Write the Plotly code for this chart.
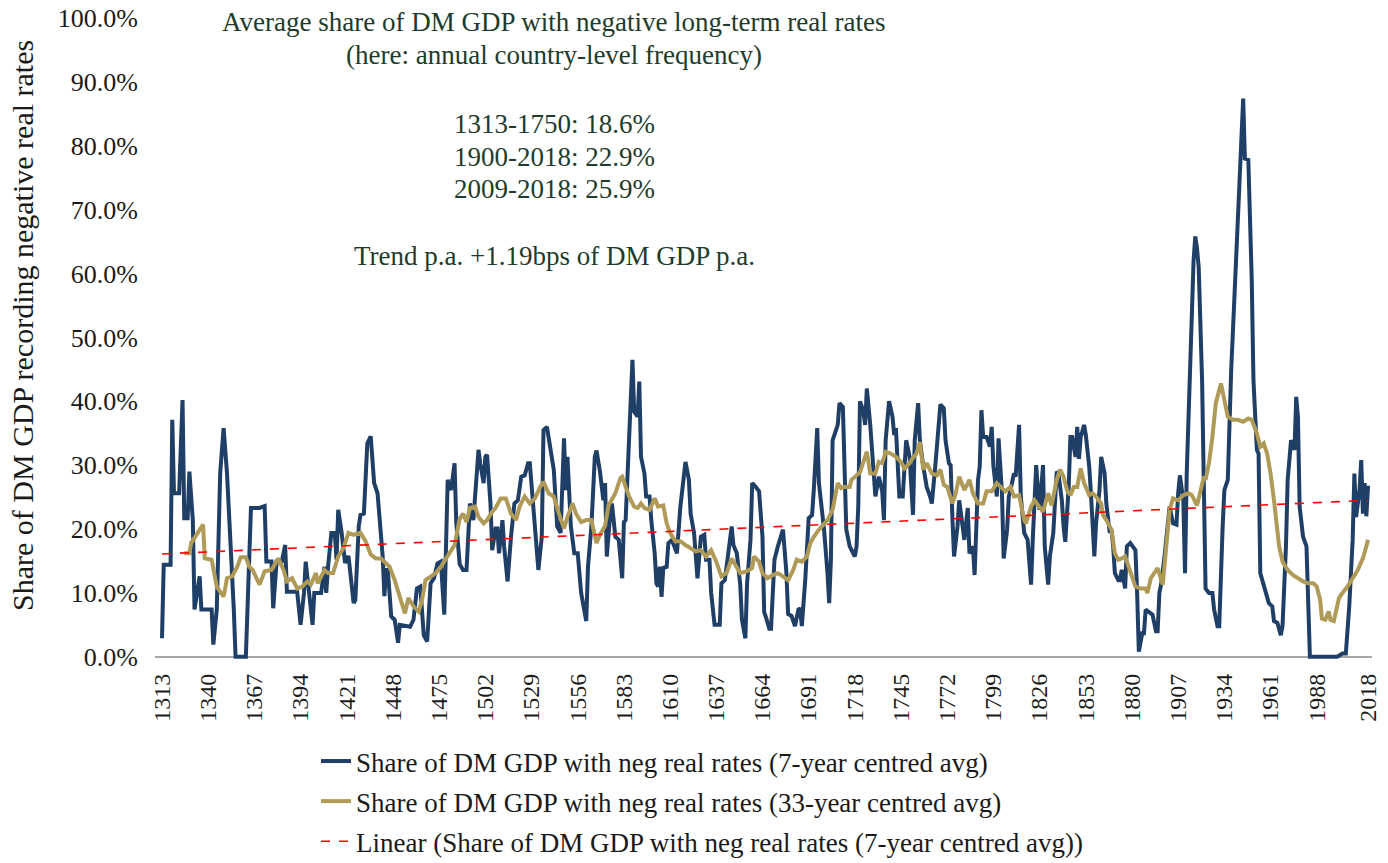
import plotly.graph_objects as go

# ---------------- data ----------------
blue_years = [1313,1314,1318,1319,1320,1323,1325,1326,1328,1329,1331,1332,1335,1336,1342,1343,1345,1347,1349,1351,
1355,1356,1362,1365,1370,1373,1374,1377,1378,1380,1383,1385,1386,1392,1394,1396,1397,1399,1401,1402,
1406,1408,1409,1410,1412,1414,1415,1416,1418,1420,1422,1425,1426,1428,1429,1431,1433,1435,1437,1439,
1442,1443,1444,1445,1447,1449,1451,1452,1458,1460,1462,1464,1466,1468,1470,1472,1474,1476,1477,1478,
1480,1482,1484,1485,1487,1489,1491,1492,1493,1495,1496,1498,1499,1501,1502,1503,1505,1506,1508,1509,
1510,1512,1513,1515,1517,1519,1521,1523,1525,1527,1528,1530,1532,1533,1535,1536,1538,1540,1542,1544,
1546,1548,1549,1550,1552,1554,1556,1558,1560,1561,1562,1564,1566,1567,1569,1571,1572,1573,1575,1576,
1578,1580,1582,1583,1584,1586,1588,1589,1591,1592,1593,1595,1596,1598,1599,1601,1602,1603,1604,1605,
1606,1608,1609,1611,1614,1616,1618,1619,1621,1622,1624,1625,1626,1628,1630,1631,1633,1634,1636,1639,
1640,1642,1644,1646,1647,1649,1651,1652,1654,1655,1657,1658,1660,1662,1664,1665,1666,1668,1669,1671,
1673,1675,1676,1678,1679,1681,1683,1685,1686,1687,1689,1691,1693,1694,1696,1697,1699,1700,1702,1703,
1704,1705,1708,1709,1711,1712,1713,1715,1718,1719,1720,1721,1723,1724,1725,1727,1729,1730,1732,1734,
1735,1736,1738,1740,1741,1742,1744,1746,1748,1750,1752,1753,1755,1756,1758,1760,1762,1763,1765,1767,
1768,1770,1771,1773,1774,1775,1776,1778,1779,1781,1782,1784,1785,1787,1788,1790,1791,1792,1793,1795,
1797,1798,1799,1801,1802,1804,1805,1807,1808,1809,1811,1812,1814,1815,1817,1819,1821,1822,1824,1825,
1826,1828,1829,1831,1832,1834,1836,1837,1839,1840,1841,1843,1844,1845,1847,1848,1849,1850,1852,1853,
1855,1856,1858,1859,1861,1862,1864,1865,1867,1868,1869,1870,1872,1873,1874,1876,1877,1879,1881,1882,
1883,1884,1886,1887,1888,1890,1892,1894,1895,1896,1897,1899,1901,1902,1904,1906,1907,1908,1910,1911,
1912,1914,1915,1916,1917,1918,1919,1921,1923,1925,1927,1928,1930,1931,1933,1934,1936,1937,1938,1940,
1941,1943,1945,1946,1948,1950,1951,1953,1954,1955,1958,1960,1962,1963,1965,1967,1968,1970,1971,1973,
1975,1976,1977,1978,1980,1982,1984,2000,2003,2005,2007,2009,2010,2011,2013,2014,2015,2016,2017,2018]
blue_values = [2.9,14.4,14.4,37.1,25.6,25.6,40.2,21.7,21.7,29.0,21.4,7.4,12.6,7.4,7.4,1.9,7.4,28.7,35.8,28.7,
7.2,0.0,0.0,23.3,23.3,23.6,14.9,14.9,7.6,14.9,14.9,17.5,10.2,10.2,5.0,10.0,14.9,10.0,5.0,10.0,
10.0,14.1,10.0,13.9,19.4,19.4,15.2,23.0,19.4,14.7,15.8,8.4,8.9,20.4,22.2,22.4,33.4,34.5,27.2,25.6,
15.7,9.5,13.6,13.6,6.3,5.8,2.2,5.0,4.7,5.8,10.7,11.0,3.4,2.4,11.5,12.3,14.6,14.9,10.0,6.6,
27.7,26.1,30.3,21.0,14.5,13.6,13.6,18.8,24.0,21.4,24.5,32.4,30.3,27.2,31.3,31.6,24.0,16.7,20.1,20.1,
16.2,21.4,17.2,11.8,18.8,24.0,24.5,28.2,28.4,30.3,30.3,23.5,16.7,13.6,18.8,35.5,36.0,32.4,29.3,20.4,
19.4,34.2,26.1,31.3,20.4,16.2,16.2,10.0,6.9,5.6,14.1,20.4,31.3,32.3,29.0,24.5,27.2,15.7,22.4,24.0,
18.8,18.3,12.3,21.1,21.4,34.0,46.5,38.4,37.6,43.1,31.3,28.7,25.1,25.1,21.4,16.2,11.5,11.0,14.1,9.4,
13.9,14.1,17.8,18.3,16.2,23.5,28.7,30.5,27.7,22.4,19.4,16.2,12.3,18.8,19.1,15.2,15.2,10.0,5.0,5.0,
11.5,12.0,16.7,20.4,17.5,16.2,11.3,5.8,2.9,11.5,18.3,27.2,26.6,25.9,18.8,7.0,6.2,4.4,4.4,15.2,
17.3,19.4,19.9,13.1,6.7,6.4,4.8,7.4,7.6,4.8,12.0,21.7,22.2,26.1,35.8,27.2,22.4,19.9,13.1,8.4,
15.2,33.9,36.3,39.7,39.1,27.7,19.9,17.3,15.7,17.3,23.5,40.0,38.4,36.3,42.0,36.3,29.8,25.1,28.2,25.9,
21.4,33.9,40.0,37.6,34.7,35.8,25.1,25.1,33.9,31.3,22.2,33.9,39.7,33.9,29.8,26.6,25.1,24.0,29.8,37.1,
39.5,38.9,33.9,30.3,30.0,21.9,15.7,20.4,24.5,20.4,18.3,23.3,16.2,17.3,12.8,27.7,29.8,38.6,34.4,34.4,
32.9,36.0,29.8,25.1,34.2,25.6,15.4,19.9,25.1,26.1,28.7,28.2,36.3,25.1,19.4,18.3,11.3,18.3,30.0,26.1,
23.0,30.0,17.3,11.3,15.7,19.4,29.0,28.7,24.5,20.4,18.0,26.6,34.4,34.4,31.3,36.0,31.0,34.4,36.3,34.7,
29.8,25.6,15.7,20.9,26.1,31.3,28.7,24.0,19.4,19.9,17.3,13.1,12.0,12.0,13.6,10.7,17.3,17.8,17.0,16.7,
10.0,0.8,3.7,3.7,7.4,6.9,6.6,4.0,4.0,10.0,11.3,15.7,20.4,23.5,20.9,20.7,25.6,28.4,24.5,13.1,
28.7,44.0,55.0,62.0,65.8,64.0,61.0,43.0,10.7,10.0,10.0,7.4,4.8,4.8,20.4,26.1,27.7,38.0,45.0,57.0,
63.0,77.8,87.4,78.0,77.8,59.0,43.3,32.4,31.8,13.1,10.0,8.4,7.9,5.6,5.3,3.4,4.8,17.3,27.7,33.9,
32.4,40.7,37.6,23.5,18.8,17.3,0.0,0.0,0.5,0.5,7.9,18.3,28.7,21.9,26.1,30.8,22.4,27.2,22.0,26.8]

gold_years = [1326,1329,1330,1334,1337,1338,1342,1345,1349,1351,1354,1357,1359,1362,1364,1366,1370,1373,1377,1381,
1384,1386,1389,1392,1395,1398,1400,1403,1404,1408,1410,1413,1416,1419,1422,1425,1429,1432,1435,1438,
1441,1444,1446,1449,1452,1455,1457,1460,1463,1465,1467,1470,1473,1476,1479,1482,1484,1487,1489,1491,
1493,1496,1498,1501,1503,1506,1508,1511,1514,1517,1520,1522,1525,1528,1531,1534,1536,1539,1542,1545,
1548,1550,1553,1555,1558,1561,1564,1567,1569,1572,1574,1578,1581,1582,1584,1586,1589,1591,1593,1595,
1598,1601,1603,1606,1608,1610,1613,1616,1619,1622,1625,1628,1631,1634,1637,1640,1643,1646,1649,1651,
1655,1658,1659,1662,1664,1667,1670,1673,1676,1679,1682,1684,1687,1690,1692,1694,1697,1700,1702,1705,
1708,1710,1712,1715,1716,1719,1721,1723,1725,1727,1730,1732,1734,1736,1739,1742,1745,1747,1750,1751,
1754,1756,1758,1760,1763,1766,1768,1770,1772,1775,1777,1779,1782,1785,1787,1790,1793,1795,1798,1801,
1804,1806,1809,1811,1814,1817,1818,1821,1823,1826,1828,1831,1833,1836,1838,1840,1842,1844,1846,1848,
1850,1852,1855,1857,1859,1862,1863,1865,1868,1870,1872,1874,1876,1878,1880,1882,1885,1888,1889,1891,
1893,1895,1898,1900,1902,1904,1907,1910,1913,1915,1918,1920,1922,1923,1925,1927,1929,1932,1933,1934,
1936,1939,1942,1945,1948,1950,1953,1955,1957,1959,1961,1963,1965,1966,1968,1971,1974,1977,1980,1983,
1986,1988,1990,1991,1993,1995,1996,1998,1999,2001,2003,2006,2009,2012,2015,2018]
gold_values = [16.2,16.2,17.8,19.4,20.7,15.4,15.2,11.0,9.4,12.3,12.6,14.1,15.6,15.6,14.1,13.6,11.3,13.4,13.6,15.4,
13.6,11.8,12.3,10.7,11.0,11.8,11.3,13.1,11.5,13.6,13.1,13.1,15.7,17.0,19.4,19.1,19.4,18.1,16.0,15.4,
15.4,14.6,14.1,12.0,9.4,6.8,9.2,7.9,7.1,8.9,12.0,12.6,13.1,14.1,15.4,16.7,17.5,21.6,22.4,21.1,
23.3,23.5,21.9,20.9,21.4,22.7,23.3,24.8,24.8,22.4,21.4,23.5,25.1,24.0,24.8,26.6,27.4,25.6,25.1,22.4,
20.1,21.9,24.0,22.4,21.1,21.4,21.4,17.8,19.1,20.5,23.7,25.6,28.0,28.2,26.4,25.1,23.5,23.3,24.0,23.3,
23.0,24.8,23.5,23.7,20.9,19.4,18.1,18.1,17.5,17.0,16.5,16.7,15.7,16.7,14.9,12.6,13.1,15.4,14.1,13.1,
13.4,13.9,15.7,14.9,13.1,12.3,12.8,13.1,12.6,12.0,13.6,15.2,14.9,15.7,17.8,18.8,19.9,20.9,21.4,23.0,
27.2,26.4,26.6,26.6,27.7,28.4,28.9,30.5,32.1,28.7,28.7,30.5,30.3,32.1,31.8,31.3,30.5,29.5,30.3,30.8,
31.8,33.6,29.3,30.3,28.7,28.4,29.3,26.9,26.6,24.0,25.6,28.2,26.1,27.7,25.6,24.0,24.0,25.9,25.9,27.2,
26.4,25.9,26.6,25.1,25.3,21.4,20.9,23.5,24.5,23.3,22.7,25.6,23.7,27.7,29.3,28.2,26.1,25.3,26.6,26.6,
29.5,27.2,25.3,25.6,25.1,24.0,22.2,21.4,19.9,16.2,15.2,15.4,15.7,14.1,12.6,11.0,10.7,10.7,10.0,12.3,
13.1,13.9,11.3,17.8,23.0,24.8,24.5,25.3,25.6,25.3,23.7,25.9,28.2,27.7,30.3,34.4,39.7,42.8,41.3,40.2,
37.6,37.1,37.1,36.8,37.3,37.1,35.0,32.9,33.4,31.8,28.7,24.5,20.4,17.3,14.9,13.6,12.8,12.3,11.8,11.5,
11.5,11.0,8.9,6.0,5.8,7.1,5.8,5.6,6.9,9.2,10.0,11.0,12.3,13.6,15.4,18.3]

# linear trend: ~16.1% at the start, +1.19bps per year
trend_start_value = 16.1
trend_slope_per_year = 0.0119

tick_years = [1313 + 27 * k for k in range(26)] + [2018]
tick_labels = [str(y) for y in tick_years]
y_ticks = [i * 10 for i in range(11)]
y_tick_labels = [f"{v:.1f}%" for v in y_ticks]

annotation_lines = [
    "Average share of DM GDP with negative long-term real rates",
    "(here: annual country-level frequency)",
    "1313-1750: 18.6%",
    "1900-2018: 22.9%",
    "2009-2018: 25.9%",
    "Trend p.a. +1.19bps of DM GDP p.a.",
]
annotation_ypix = [22, 55, 124, 157, 189, 256]

series_names = [
    "Share of DM GDP with neg real rates (7-year centred avg)",
    "Share of DM GDP with neg real rates (33-year centred avg)",
    "Linear (Share of DM GDP with neg real rates (7-year centred avg))",
]

# ---------------- figure ----------------
FONT = "Liberation Serif"
W, H = 1388, 863
L, R, T, B = 155, 16, 18, 203
plot_w = W - L - R
plot_h = H - T - B

trend_x = [blue_years[0], blue_years[-1]]
trend_y = [trend_start_value + trend_slope_per_year * (x - blue_years[0]) for x in trend_x]

fig = go.Figure()
fig.add_trace(go.Scatter(x=blue_years, y=blue_values, mode="lines", name=series_names[0],
                         line=dict(color="#1F3F66", width=4), legendgroup="a"))
fig.add_trace(go.Scatter(x=gold_years, y=gold_values, mode="lines", name=series_names[1],
                         line=dict(color="#AF9A58", width=4), legendgroup="b"))
fig.add_trace(go.Scatter(x=trend_x, y=trend_y, mode="lines", name=series_names[2],
                         line=dict(color="#FF0000", width=1.6, dash="dash"), legendgroup="c"))

annots = []
for txt, yp in zip(annotation_lines, annotation_ypix):
    annots.append(dict(text=txt, xref="paper", yref="paper",
                       x=(554 - L) / plot_w, y=(H - B - yp) / plot_h,
                       xanchor="center", yanchor="middle", showarrow=False,
                       font=dict(family=FONT, size=27, color="#1E3B2C")))
annots.append(dict(text="Share of DM GDP recording negative real rates", xref="paper", yref="paper",
                   x=(22 - L) / plot_w, y=(H - B - 326) / plot_h, textangle=-90,
                   xanchor="center", yanchor="middle", showarrow=False,
                   font=dict(family=FONT, size=30, color="#1A1A1A")))

fig.update_layout(
    width=W, height=H,
    margin=dict(l=L, r=R, t=T, b=B, autoexpand=False),
    paper_bgcolor="white", plot_bgcolor="white",
    font=dict(family=FONT, size=26, color="#1A1A1A"),
    showlegend=True,
    legend=dict(x=(316 - L) / plot_w, y=(H - B - 737) / plot_h, xanchor="left", yanchor="top",
                font=dict(family=FONT, size=27, color="#1A1A1A"), tracegroupgap=2,
                bgcolor="rgba(0,0,0,0)"),
    annotations=annots,
    xaxis=dict(range=[1308.9, 2020.3], tickvals=tick_years, ticktext=tick_labels, tickangle=-90,
               showgrid=False, zeroline=False, showline=False, ticks="", ticklabelstandoff=8,
               tickfont=dict(family=FONT, size=24, color="#1A1A1A")),
    yaxis=dict(range=[-0.5, 100], tickvals=y_ticks, ticktext=y_tick_labels,
               showgrid=False, zeroline=True, zerolinecolor="#A6A6A6", zerolinewidth=2,
               showline=False, ticks="", ticklabelstandoff=16,
               tickfont=dict(family=FONT, size=26, color="#1A1A1A")),
)

fig.write_html("out.html", config={"displayModeBar": False},
               post_script="document.body.style.margin='0';document.body.style.overflow='hidden';")
